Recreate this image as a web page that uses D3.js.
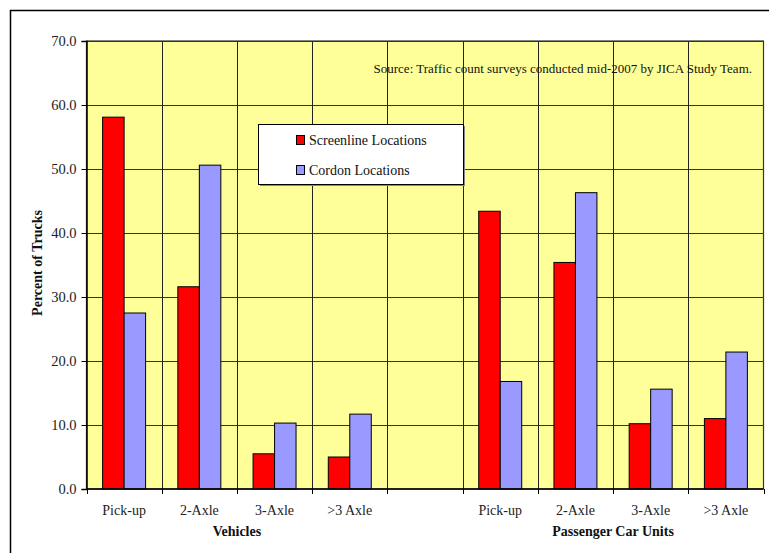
<!DOCTYPE html>
<html>
<head>
<meta charset="utf-8">
<script src="https://cdn.jsdelivr.net/npm/d3@7"></script>
<style>
  html, body { margin: 0; padding: 0; background: #fff; }
  svg text { font-family: "Liberation Serif", "Times New Roman", serif; }
</style>
</head>
<body>
<svg id="chart" width="769" height="553"></svg>
<script>
// Truck composition by class, counted as vehicles and as passenger car units
const categories = ["Pick-up", "2-Axle", "3-Axle", ">3 Axle", "", "Pick-up ", "2-Axle ", "3-Axle ", ">3 Axle "];
const screenline = [58.1, 31.6, 5.5, 5.0, null, 43.4, 35.4, 10.2, 11.0];
const cordon     = [27.5, 50.6, 10.3, 11.7, null, 16.8, 46.3, 15.6, 21.4];
const seriesNames = ["Screenline Locations", "Cordon Locations"];
const seriesColors = ["#FF0000", "#9999FF"];
const yTicks = [0, 10, 20, 30, 40, 50, 60, 70];
const groupTitles = ["Vehicles", "Passenger Car Units"];
const sourceNote = "Source: Traffic count surveys conducted mid-2007 by JICA Study Team.";

const FONT = "'Liberation Serif', 'Times New Roman', serif";
const svg = d3.select("#chart");
const plot = { left: 86.5, top: 41, right: 763.5, bottom: 489 };

// outer chart frame
svg.append("rect")
  .attr("x", 10.5).attr("y", 10.5)
  .attr("width", 780).attr("height", 600)
  .attr("fill", "#fff").attr("stroke", "#000").attr("stroke-width", 1.5);

const x = d3.scaleBand().domain(categories).range([plot.left, plot.right]);
const y = d3.scaleLinear().domain([0, 70]).range([plot.bottom, plot.top]);
// two bars per category, 150% gap between clusters
const barW = x.bandwidth() / 3.5;

// plot background
svg.append("rect")
  .attr("x", plot.left).attr("y", plot.top)
  .attr("width", plot.right - plot.left).attr("height", plot.bottom - plot.top)
  .attr("fill", "#FFFF99");

// horizontal gridlines
svg.append("g").selectAll("line").data(yTicks.slice(1)).join("line")
  .attr("x1", plot.left).attr("x2", plot.right)
  .attr("y1", d => Math.round(y(d)) + 0.5).attr("y2", d => Math.round(y(d)) + 0.5)
  .attr("stroke", "#333").attr("stroke-width", 1);

// vertical gridlines at category boundaries
svg.append("g").selectAll("line").data(categories.slice(1)).join("line")
  .attr("x1", d => Math.round(x(d)) + 0.5).attr("x2", d => Math.round(x(d)) + 0.5)
  .attr("y1", plot.top).attr("y2", plot.bottom)
  .attr("stroke", "#222").attr("stroke-width", 1);

// bars
const rows = categories.map((c, i) => ({ c, vals: [screenline[i], cordon[i]] }));
const barGroup = svg.append("g");
rows.forEach(r => {
  r.vals.forEach((v, s) => {
    if (v == null) return;
    const x0 = x(r.c) + (x.bandwidth() - 2 * barW) / 2 + s * barW;
    barGroup.append("rect")
      .attr("x", x0).attr("y", y(v))
      .attr("width", barW).attr("height", y(0) - y(v))
      .attr("fill", seriesColors[s])
      .attr("stroke", "#000").attr("stroke-width", 1);
  });
});

// plot border
svg.append("rect")
  .attr("x", plot.left).attr("y", plot.top)
  .attr("width", plot.right - plot.left).attr("height", plot.bottom - plot.top)
  .attr("fill", "none").attr("stroke", "#333").attr("stroke-width", 1.2);

// y axis
const yAxis = d3.axisLeft(y).tickValues(yTicks).tickFormat(d3.format(".1f")).tickSize(5).tickPadding(5);
const gy = svg.append("g").attr("transform", `translate(${plot.left},0)`).call(yAxis)
  .attr("font-family", FONT).attr("font-size", 14.5);
gy.select(".domain").attr("stroke", "#000").attr("stroke-width", 1.5);
gy.selectAll(".tick line").attr("stroke", "#000");
gy.selectAll(".tick text").attr("fill", "#222");

// x axis: ticks at category boundaries, labels centred in categories
const gx = svg.append("g").attr("transform", `translate(0,${plot.bottom})`);
gx.append("line").attr("x1", plot.left).attr("x2", plot.right)
  .attr("stroke", "#000").attr("stroke-width", 1.5);
const bounds = categories.map(c => x(c)).concat([plot.right]);
gx.selectAll("line.tk").data(bounds).join("line").attr("class", "tk")
  .attr("x1", d => Math.round(d) + 0.5).attr("x2", d => Math.round(d) + 0.5)
  .attr("y1", 0).attr("y2", 5).attr("stroke", "#000");
gx.selectAll("text").data(categories).join("text")
  .attr("x", d => x(d) + x.bandwidth() / 2).attr("y", 25.5)
  .attr("text-anchor", "middle").attr("font-size", 14).attr("fill", "#222")
  .attr("font-family", FONT)
  .text(d => d.trim());

// group titles under the axis
const groupSpans = [[categories[0], categories[3]], [categories[5], categories[8]]];
groupTitles.forEach((t, i) => {
  const a = x(groupSpans[i][0]), b = x(groupSpans[i][1]) + x.bandwidth();
  svg.append("text").attr("x", (a + b) / 2).attr("y", 536)
    .attr("text-anchor", "middle").attr("font-size", 14).attr("font-weight", "bold")
    .attr("font-family", FONT).attr("fill", "#111").text(t);
});

// y axis title
svg.append("text")
  .attr("transform", `translate(42,263) rotate(-90)`)
  .attr("text-anchor", "middle").attr("font-size", 14).attr("font-weight", "bold")
  .attr("font-family", FONT).attr("fill", "#111").text("Percent of Trucks");

// source note
svg.append("text").attr("x", 752).attr("y", 73).attr("text-anchor", "end")
  .attr("font-size", 13).attr("font-family", FONT).attr("fill", "#111").text(sourceNote);

// legend
const lg = svg.append("g");
lg.append("rect").attr("x", 260).attr("y", 126).attr("width", 205).attr("height", 60)
  .attr("fill", "#888");
lg.append("rect").attr("x", 258.5).attr("y", 124.5).attr("width", 205).attr("height", 60)
  .attr("fill", "#fff").attr("stroke", "#000").attr("stroke-width", 1);
seriesNames.forEach((n, i) => {
  const yy = 140 + i * 30;
  lg.append("rect").attr("x", 296.5).attr("y", yy - 4.5).attr("width", 8).attr("height", 9)
    .attr("fill", seriesColors[i]).attr("stroke", "#000").attr("stroke-width", 1);
  lg.append("text").attr("x", 309).attr("y", yy + 5).attr("font-size", 14)
    .attr("font-family", FONT).attr("fill", "#111").text(n);
});
</script>
</body>
</html>
